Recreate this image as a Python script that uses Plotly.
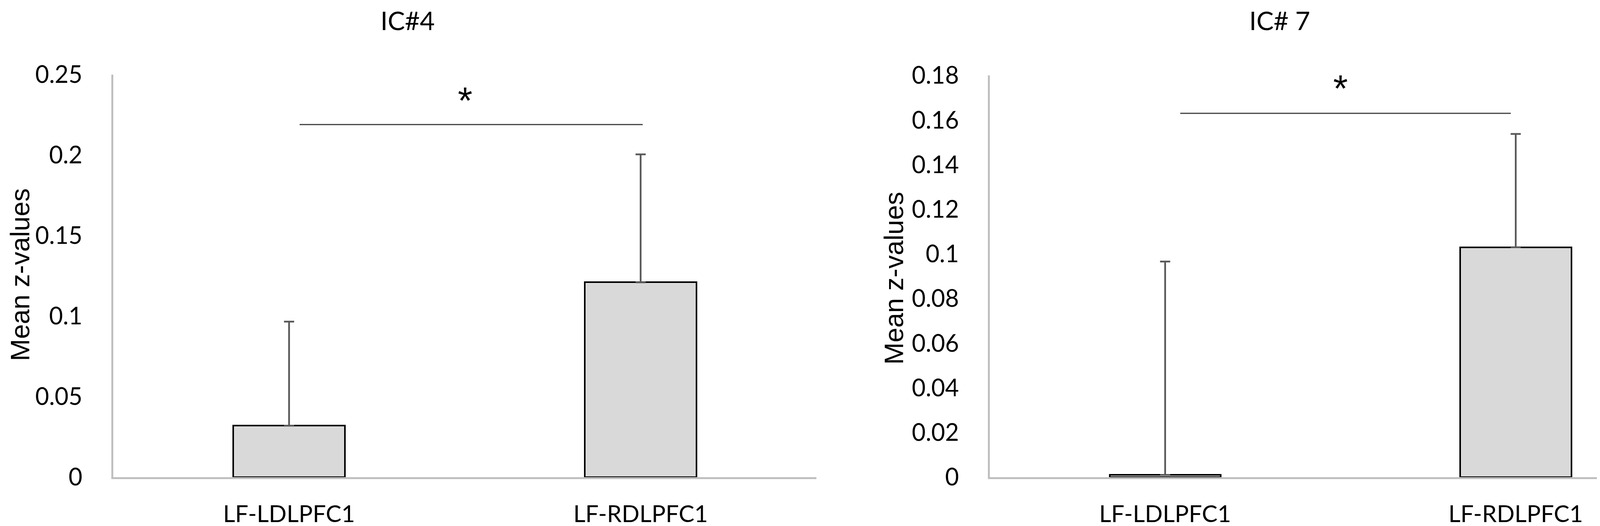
import plotly.graph_objects as go

# data
categories = ["LF-LDLPFC1", "LF-RDLPFC1"]
panel_titles = ["IC#4", "IC# 7"]

ic4_means = [0.032, 0.121]
ic4_err = [0.0646, 0.0795]

ic7_means = [0.001, 0.103]
ic7_err = [0.0956, 0.0508]

y_max = [0.25, 0.18]
y_step = [0.05, 0.02]

# significance bracket: (x0, x1) in category index units, height in data units
sig_x = [(0.03, 1.006), (0.043, 0.986)]
sig_y = [0.219, 0.163]
star_y = [0.236, 0.1757]

TICK_FONT = dict(family="Lato", size=61, color="black")
CAT_FONT = dict(family="Lato", size=60, color="black")
BAR_FILL = "#d9d9d9"
AXIS_GREY = "#bfbfbf"
ERR_GREY = "#595959"

fig = go.Figure()

panels = [(ic4_means, ic4_err), (ic7_means, ic7_err)]
x_domains = [[282 / 4328, 2082 / 4328], [2526 / 4328, 4321 / 4328]]
y_domains = [[1 - 1213 / 1346, 1 - 183 / 1346], [1 - 1213 / 1346, 1 - 185 / 1346]]

for i, (means, err) in enumerate(panels):
    ax = "" if i == 0 else str(i + 1)
    fig.add_trace(go.Bar(
        x=categories,
        y=means,
        width=0.317,
        marker=dict(color=BAR_FILL, line=dict(color="black", width=4)),
        error_y=dict(
            type="data",
            array=err,
            arrayminus=[0, 0],
            symmetric=False,
            color=ERR_GREY,
            thickness=4.5,
            width=13,
        ),
        xaxis="x" + ax,
        yaxis="y" + ax,
        showlegend=False,
    ))

    # significance line and star
    fig.add_shape(
        type="line",
        xref="x" + ax, yref="y" + ax,
        x0=sig_x[i][0], x1=sig_x[i][1], y0=sig_y[i], y1=sig_y[i],
        line=dict(color="#404040", width=3),
    )
    fig.add_annotation(
        xref="x" + ax, yref="y" + ax,
        x=0.5, y=star_y[i],
        text="*", showarrow=False,
        font=dict(family="Liberation Sans", size=96, color="black"),
        yanchor="middle", yshift=-8,
    )

    n = int(round(y_max[i] / y_step[i]))
    tickvals = [round(k * y_step[i], 4) for k in range(n + 1)]
    ticktext = ["0" if v == 0 else ("%g" % v) for v in tickvals]

    fig.layout["xaxis" + ax] = dict(
        domain=x_domains[i],
        anchor="y" + ax,
        type="category",
        range=[-0.5, 1.5],
        showline=True, linecolor=AXIS_GREY, linewidth=5,
        ticks="", showgrid=False, zeroline=False,
        tickfont=CAT_FONT,
        ticklabelstandoff=38,
        automargin=False,
    )
    fig.layout["yaxis" + ax] = dict(
        domain=y_domains[i],
        anchor="x" + ax,
        range=[0, y_max[i]],
        tickvals=tickvals,
        ticktext=ticktext,
        showline=True, linecolor=AXIS_GREY, linewidth=5,
        ticks="", showgrid=False, zeroline=False,
        tickfont=TICK_FONT,
        ticklabelstandoff=62,
        automargin=False,
    )

# panel titles and y-axis titles
title_x = [1035 / 4328, 3268 / 4328]
ytitle_x = [43 / 4328, 2280 / 4328]
ytitle_y = [1 - 695 / 1346, 1 - 704 / 1346]
for i in range(2):
    fig.add_annotation(
        xref="paper", yref="paper",
        x=title_x[i], y=1 - 43 / 1346,
        text=panel_titles[i], showarrow=False,
        font=dict(family="Lato", size=66, color="black"),
        xanchor="center", yanchor="middle",
    )
    fig.add_annotation(
        xref="paper", yref="paper",
        x=ytitle_x[i], y=ytitle_y[i],
        text="Mean z-values", showarrow=False, textangle=-90,
        font=dict(family="Liberation Sans", size=68, color="black"),
        xanchor="center", yanchor="middle",
    )

fig.update_layout(
    width=4328,
    height=1346,
    margin=dict(l=0, r=0, t=0, b=0, autoexpand=False),
    paper_bgcolor="white",
    plot_bgcolor="white",
    bargap=0.0,
)

fig.write_html("out.html")
